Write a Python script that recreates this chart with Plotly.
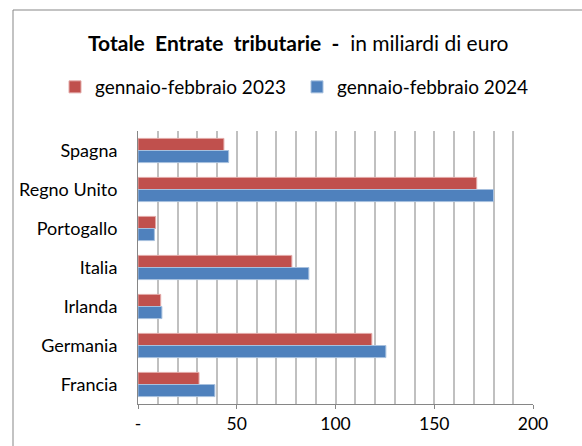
import plotly.graph_objects as go

categories = ["Spagna", "Regno Unito", "Portogallo", "Italia", "Irlanda", "Germania", "Francia"]
values_2023 = [43.5, 171.5, 8.9, 77.9, 11.5, 118.4, 30.9]
values_2024 = [45.9, 180.0, 8.3, 86.5, 12.1, 125.5, 38.9]
series_names = ["gennaio-febbraio 2023", "gennaio-febbraio 2024"]
tick_vals = [0, 50, 100, 150, 200]
tick_text = ["-", "50", "100", "150", "200"]

FONT = "Lato"
W, H = 582, 446
L, R, T, B = 138, 49, 131, 42
pw = W - L - R
ph = H - T - B

fig = go.Figure()
fig.add_trace(go.Bar(
    y=categories, x=values_2023, orientation="h", name=series_names[0],
    marker=dict(color="#C0504D", line=dict(color="#E3A9A7", width=1)),
))
fig.add_trace(go.Bar(
    y=categories, x=values_2024, orientation="h", name=series_names[1],
    marker=dict(color="#4F81BD", line=dict(color="#A7C0DE", width=1)),
))

fig.update_layout(
    template="none",
    width=W, height=H,
    margin=dict(l=L, r=R, t=T, b=B, autoexpand=False),
    paper_bgcolor="white", plot_bgcolor="white",
    barmode="group", bargap=0.38, bargroupgap=0,
    font=dict(family=FONT, size=18, color="#000000"),
    showlegend=True,
    legend=dict(
        orientation="h", xref="paper", yref="paper",
        x=(55 - L) / pw, y=1 + (T - 87) / ph, xanchor="left", yanchor="middle",
        entrywidth=197, entrywidthmode="pixels",
        font=dict(family=FONT, size=19), bgcolor="rgba(0,0,0,0)",
        traceorder="normal",
    ),
    xaxis=dict(
        range=[0, 200], tickvals=tick_vals, ticktext=tick_text,
        showgrid=False, zeroline=False, automargin=False,
        showline=True, linecolor="#868686", linewidth=1,
        ticks="outside", ticklen=4, tickcolor="#868686",
        tickfont=dict(family=FONT, size=17.5),
        minor=dict(dtick=10, tick0=0, showgrid=True, gridcolor="#C0C0C0", gridwidth=1.5, ticks=""),
        fixedrange=True,
    ),
    yaxis=dict(
        autorange="reversed", showgrid=False, zeroline=False, automargin=False,
        showline=True, linecolor="#868686", linewidth=1,
        ticks="", ticklabelstandoff=16,
        tickfont=dict(family=FONT, size=18), fixedrange=True,
    ),
)

# Title with bold first part
fig.add_annotation(
    xref="paper", yref="paper",
    x=(298 - L) / pw, y=1 + (T - 42) / ph,
    xanchor="center", yanchor="middle", showarrow=False,
    text="<b>Totale  Entrate  tributarie  -</b>  in miliardi di euro",
    font=dict(family=FONT, size=21, color="#000000"),
)

# Outer chart border (extends past the visible window)
fig.add_shape(
    type="rect", xref="paper", yref="paper",
    x0=(13 - L) / pw, x1=(W + 20 - L) / pw,
    y0=-(H + 20 - (H - B)) / ph, y1=1 + (T - 10) / ph,
    line=dict(color="#878787", width=1), fillcolor="rgba(0,0,0,0)", layer="below",
)

fig.write_html(
    "out.html",
    config={"displayModeBar": False},
    post_script="document.body.style.margin='0';document.body.style.overflow='hidden';",
)
